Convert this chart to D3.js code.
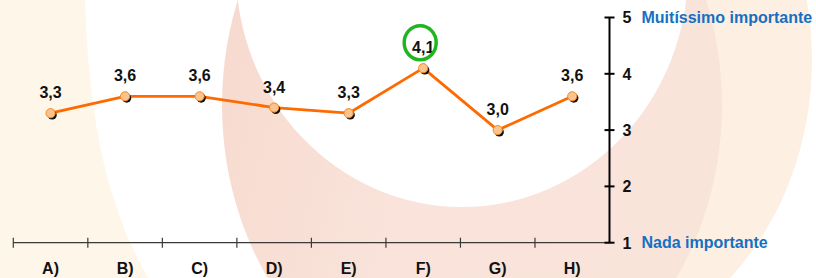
<!DOCTYPE html>
<html><head><meta charset="utf-8">
<script src="https://cdn.jsdelivr.net/npm/d3@7"></script>
<style>
html,body{margin:0;padding:0;background:#fff;}
svg{display:block;}
text{font-family:"Liberation Sans",Arial,sans-serif;font-weight:bold;}
</style></head>
<body>
<script>
const categories = ["A)","B)","C)","D)","E)","F)","G)","H)"];
const values = [3.3, 3.6, 3.6, 3.4, 3.3, 4.1, 3.0, 3.6];
const valueLabels = ["3,3","3,6","3,6","3,4","3,3","4,1","3,0","3,6"];
const yTicks = [1,2,3,4,5];
const highlight = "F)";
const scaleLabels = [{v:5, text:"Muitíssimo importante"},{v:1, text:"Nada importante"}];

const W = 816, H = 278;
const svg = d3.select("body").append("svg").attr("width", W).attr("height", H);

// watermark background
const defs = svg.append("defs");
const g1 = defs.append("linearGradient").attr("id","pinkG").attr("x1","0").attr("x2","1").attr("y1","0").attr("y2","0.3");
g1.append("stop").attr("offset","0").attr("stop-color","#f7d8cc");
g1.append("stop").attr("offset","0.5").attr("stop-color","#f9e3da");
g1.append("stop").attr("offset","1").attr("stop-color","#f9e4da");
const bg = svg.append("g");
bg.append("path").attr("d","M0,0 L85,0 C88,90 98,190 148,278 L0,278 Z").attr("fill","#fef6e8");
bg.append("ellipse").attr("cx",550).attr("cy",60).attr("rx",262).attr("ry",300).attr("fill","#fdefe1");
bg.append("ellipse").attr("cx",472).attr("cy",105).attr("rx",250).attr("ry",300).attr("fill","url(#pinkG)");
bg.append("ellipse").attr("cx",462).attr("cy",-30).attr("rx",226).attr("ry",237).attr("fill","#ffffff");

const x = d3.scaleBand().domain(categories).range([13.3, 609.5]).padding(0);
const y = d3.scaleLinear().domain([1,5]).range([242.7, 17.5]);

// x axis
const xAxisY = y(1);
const xg = svg.append("g");
xg.append("line").attr("x1", x.range()[0]).attr("x2", x.range()[1]).attr("y1", xAxisY).attr("y2", xAxisY)
  .attr("stroke","#3a3a3a").attr("stroke-width",1.2);
xg.selectAll("line.tk").data(categories).enter().append("line").attr("class","tk")
  .attr("x1", d => x(d)).attr("x2", d => x(d)).attr("y1", xAxisY-5).attr("y2", xAxisY+5)
  .attr("stroke","#3a3a3a").attr("stroke-width",1.2);
xg.selectAll("text").data(categories).enter().append("text")
  .attr("x", d => x(d) + x.bandwidth()/2).attr("y", 273.5)
  .attr("text-anchor","middle").attr("font-size",16).attr("fill","#111").text(d => d);

// y axis (right)
const axX = x.range()[1];
const yg = svg.append("g");
yg.append("line").attr("x1",axX).attr("x2",axX).attr("y1",y(5)).attr("y2",y(1)).attr("stroke","#000").attr("stroke-width",2);
yg.selectAll("line.tk").data(yTicks).enter().append("line").attr("class","tk")
  .attr("x1",axX-5).attr("x2",axX+5).attr("y1",d=>y(d)).attr("y2",d=>y(d)).attr("stroke","#000").attr("stroke-width",2);
yg.selectAll("text.tl").data(yTicks).enter().append("text").attr("class","tl")
  .attr("x",axX+13).attr("y",d=>y(d)+5.8).attr("font-size",16).attr("fill","#111").text(d=>d);
yg.selectAll("text.sl").data(scaleLabels).enter().append("text").attr("class","sl")
  .attr("x",axX+32).attr("y",d=>y(d.v)+5.5).attr("font-size",16).attr("fill","#1570c3").text(d=>d.text);

// line
const cx = d => x(d) + x.bandwidth()/2;
const line = d3.line().x((d,i)=>cx(categories[i])).y(d=>y(d));
svg.append("path").datum(values).attr("d",line).attr("fill","none").attr("stroke","#ff6a00").attr("stroke-width",2.8).attr("stroke-linejoin","round");

// points
const pts = svg.append("g");
pts.selectAll("circle.sh").data(values).enter().append("circle").attr("class","sh")
  .attr("cx",(d,i)=>cx(categories[i])+1.6).attr("cy",d=>y(d)+1.8).attr("r",4.6).attr("fill","#111");
pts.selectAll("circle.pt").data(values).enter().append("circle").attr("class","pt")
  .attr("cx",(d,i)=>cx(categories[i])).attr("cy",d=>y(d)).attr("r",4.6)
  .attr("fill","#fcc38c").attr("stroke","#f58a1f").attr("stroke-width",1);

// labels
svg.selectAll("text.vl").data(values).enter().append("text").attr("class","vl")
  .attr("x",(d,i)=>cx(categories[i])).attr("y",d=>y(d)-15)
  .attr("text-anchor","middle").attr("font-size",16).attr("fill","#111").text((d,i)=>valueLabels[i]);

// highlight ring
const hi = categories.indexOf(highlight);
svg.append("ellipse").attr("cx",cx(highlight)-3).attr("cy",y(values[hi])-25.5).attr("rx",16).attr("ry",17)
  .attr("fill","none").attr("stroke","#1fb51f").attr("stroke-width",3.5);
</script>
</body></html>
